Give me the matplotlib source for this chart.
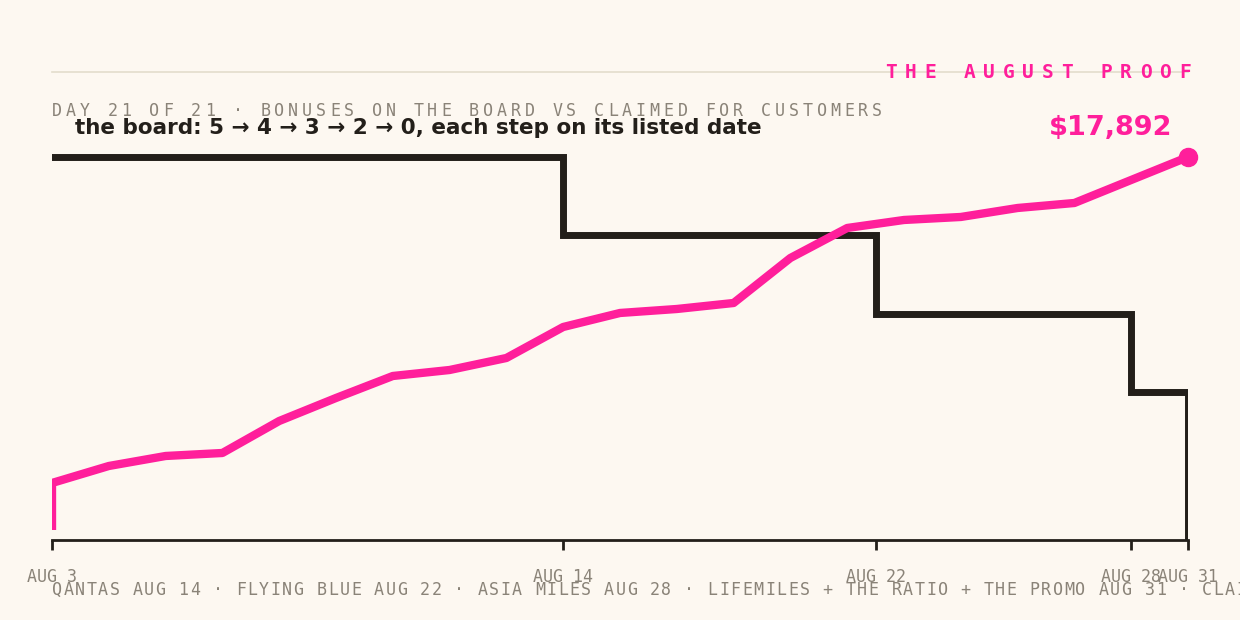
import matplotlib.pyplot as plt

# chart data
days = list(range(21))
claimed = [0, 2255, 3070, 3550, 3694, 5229, 6332, 7387, 7675, 8251, 9738, 10410, 10601, 10889,
           13048, 14487, 14871, 15015, 15446, 15686, 16790, 17892]
claimed_x = [0] + days
board_x = [0, 9, 9, 14.5, 14.5, 19, 19, 20, 20]
board_y = [5, 5, 4, 4, 3, 3, 2, 2, 0]
tick_pos = [0, 9, 14.5, 19, 20]
tick_lab = ['AUG 3', 'AUG 14', 'AUG 22', 'AUG 28', 'AUG 31']

bg = '#fdf8f1'
pink = '#ff1f9b'
ink = '#231f1a'
grey = '#8a8378'

fig = plt.figure(figsize=(12.4, 6.2), dpi=100, facecolor=bg)
ax = fig.add_axes([52/1240, 80/620, 1136/1240, 440/620])
ax.set_facecolor(bg)
ax.plot(board_x, board_y, color=ink, lw=5, solid_joinstyle='miter', clip_on=True)
ax.set_xlim(0, 20)
ax.set_ylim(0.109, 5.73)

ax2 = ax.twinx()
ax2.plot(claimed_x, claimed, color=pink, lw=6, solid_joinstyle='round', solid_capstyle='butt')
ax2.plot([claimed_x[-1]], [claimed[-1]], 'o', color=pink, ms=13, clip_on=False)
ax2.set_ylim(-480, 20626)

for a in (ax, ax2):
    for s in a.spines.values():
        s.set_visible(False)
    a.set_yticks([])
ax.spines['bottom'].set_visible(True)
ax.spines['bottom'].set_color(ink)
ax.spines['bottom'].set_linewidth(2)
ax.set_xticks(tick_pos)
ax.set_xticklabels(tick_lab, family='DejaVu Sans Mono', fontsize=12, color=grey)
ax.tick_params(axis='x', length=7, width=2, color=ink, pad=13)


def spaced(x, y, s, step, **kw):
    # draw text char by char in pixel coords (from top-left)
    for i, ch in enumerate(s):
        fig.text((x + i * step) / 1240, 1 - y / 620, ch, va='center', ha='left', **kw)


fig.add_artist(plt.Line2D([52/1240, 1188/1240], [1 - 72/620] * 2, color='#e3ddcc', lw=1.2))
title = 'THE AUGUST PROOF'
spaced(885, 72, title, 19.6, family='DejaVu Sans Mono', fontsize=14, color=pink, weight='bold')
spaced(52, 111, 'DAY 21 OF 21 · BONUSES ON THE BOARD VS CLAIMED FOR CUSTOMERS', 13.9,
       family='DejaVu Sans Mono', fontsize=12, color=grey)
spaced(52, 590, 'QANTAS AUG 14 · FLYING BLUE AUG 22 · ASIA MILES AUG 28 · LIFEMILES + THE RATIO + THE PROMO AUG 31 · CLAIMED',
       11.5, family='DejaVu Sans Mono', fontsize=12, color=grey)

fig.text(75/1240, 1 - 128/620, 'the board: 5 → 4 → 3 → 2 → 0, each step on its listed date',
         fontsize=15.5, weight='bold', color=ink, va='center', family=['DejaVu Sans'])
fig.text(1172/1240, 1 - 128/620, '$17,892', fontsize=19.5, weight='bold', color=pink,
         va='center', ha='right')

fig.savefig('out.png', dpi=100, facecolor=bg)
